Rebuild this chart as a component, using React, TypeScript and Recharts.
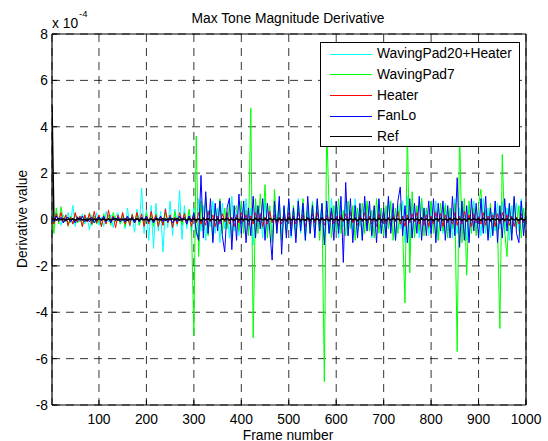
import React from 'react';
import { LineChart, Line, XAxis, YAxis, CartesianGrid, Legend } from 'recharts';

// Frame numbers sampled every 5 frames (first sample = frame 1)
const FRAMES: number[] = Array.from({ length: 201 }, (_, i) => (i === 0 ? 1 : i * 5));

const X_TICKS = [100, 200, 300, 400, 500, 600, 700, 800, 900, 1000];
const Y_TICKS = [-8, -6, -4, -2, 0, 2, 4, 6, 8];

const SERIES_NAMES = ['WavingPad20+Heater', 'WavingPad7', 'Heater', 'FanLo', 'Ref'];
const SERIES_COLORS = ['#00ffff', '#00ff00', '#ff0000', '#0000ff', '#000000'];

// values in units of 1e-4
const WAVING20_HEATER = [
  0.1, -0.2, 0.3, 0.05, -0.25, 0.2, -0.1, 0.3, -0.15, 0.6,
  -0.3, 0.15, -0.1, 0.25, -0.2, 0.1, -0.45, 0.2, -0.15, 0.3,
  -0.25, 0.1, -0.3, 0.35, -0.1, 0.2, -0.35, 0.15, 0.3, -0.2,
  0.25, -0.4, 0.5, -0.3, 0.2, -0.55, 0.45, -0.25, 1.35, -0.6,
  0.4, -0.9, 0.6, -1.25, 0.7, -0.5, 0.35, -1.4, 0.5, -0.35,
  0.8, -0.7, 0.45, -0.3, 1.25, -0.85, 0.6, -0.4, 0.3, -0.6,
  0.5, -0.7, 0.9, -0.5, 0.6, -0.9, 0.4, -0.3, 0.8, -0.6,
  0.5, -1.0, 0.7, -0.4, 0.3, -0.8, 1.0, -0.5, 0.4, -0.7,
  0.6, -0.3, 0.9, -0.6, 0.5, -1.1, 0.7, -0.4, 0.3, -0.8,
  0.9, -0.5, 0.4, -0.9, 0.6, -0.3, 0.8, -0.7, 0.5, -0.4,
  0.7, -0.8, 0.4, -0.5, 0.9, -0.6, 0.3, -0.9, 0.6, -0.4,
  0.8, -0.7, 0.5, -0.3, 0.7, -0.9, 0.4, -0.6, 0.9, -0.4,
  0.5, -0.8, 0.6, -0.3, 0.8, -0.7, 0.4, -0.5, 0.9, -0.6,
  0.3, -0.9, 0.7, -0.4, 0.6, -0.8, 0.5, -0.3, 0.8, -0.6,
  0.4, -0.7, 0.9, -0.5, 0.3, -0.9, 0.6, -0.4, 0.8, -1.0,
  1.0, -1.4, 0.7, -0.6, 0.4, -0.8, 0.9, -0.3, 0.5, -0.7,
  0.6, -0.4, 0.8, -0.9, 0.3, -0.6, 0.7, -0.5, 0.4, -0.8,
  0.9, -0.6, 0.5, -0.4, 0.7, -0.9, 0.6, -0.3, 0.8, -0.5,
  0.4, -0.7, 0.9, -0.6, 0.5, -0.8, 0.3, -0.5, 0.7, -0.4,
  0.8, -0.6, 0.5, -0.9, 0.6, -0.3, 0.7, -0.5, 0.9, -0.4,
  0.2,
];

const WAVINGPAD7 = [
  0.3, -0.6, 0.5, -0.2, 0.55, -0.1, 0.2, -0.3, 0.15, -0.2,
  0.25, -0.15, 0.1, -0.3, 0.2, -0.1, 0.3, -0.25, 0.15, -0.2,
  0.1, -0.3, 0.25, -0.15, 0.2, -0.25, 0.3, -0.1, 0.15, -0.2,
  0.2, -0.3, 0.1, -0.2, 0.25, -0.15, 0.3, -0.25, 0.1, -0.2,
  0.3, -0.15, 0.2, -0.3, 0.25, -0.2, 0.15, -0.25, 0.3, -0.1,
  0.2, -0.3, 0.35, -0.2, 0.15, -0.25, 0.3, -0.2, 0.45, -0.3,
  -5.0, 3.6, -1.6, 0.8, -0.5, 1.0, -0.7, 0.4, -0.9, 0.6,
  -0.3, 0.9, -0.6, 0.5, -0.4, 0.7, -0.8, 0.3, 0.6, -0.5,
  0.8, -0.6, 0.4, -0.7, 4.8, -5.1, 0.9, -0.6, 1.1, -0.4,
  1.5, -0.8, 0.6, -1.0, 1.3, -0.5, 0.7, -0.9, 0.5, -0.6,
  0.8, -0.4, 0.6, -0.8, 0.5, -0.3, 0.9, -0.7, 0.4, -0.6,
  0.7, -0.5, 0.8, -0.9, 0.6, -7.0, 4.0, 0.5, -0.8, 0.6,
  -0.5, 0.9, -0.6, 0.4, -0.7, 0.8, -0.4, 0.6, -0.9, 0.5,
  -0.3, 0.7, -0.6, 0.8, -0.5, 0.4, -0.8, 0.9, -0.6, 0.5,
  -0.7, 0.6, -0.4, 0.8, -0.9, 0.5, -0.6, 0.7, -0.5, -3.6,
  4.0, -2.3, 1.2, -0.8, 0.6, -0.5, 0.9, -0.7, 0.5, -0.4,
  0.8, -0.6, 0.4, -0.9, 0.7, -0.5, 0.6, -0.8, 0.5, -0.4,
  0.7, -5.7, 4.0, -1.0, 0.9, -2.4, 0.8, -0.6, 0.5, -0.7,
  0.6, 1.3, -0.5, 0.4, -0.8, 0.7, -0.6, 0.5, -0.4, -4.7,
  2.8, -0.5, -1.6, 0.7, -0.6, 0.9, -0.4, 0.6, -0.8, 0.5,
  -0.3,
];

const HEATER = [
  0.1, -0.2, 0.25, -0.1, 0.3, -0.15, 0.2, -0.25, 0.1, -0.2,
  0.3, -0.1, 0.15, -0.3, 0.2, -0.1, 0.25, -0.2, 0.35, -0.15,
  0.2, -0.3, 0.1, -0.2, 0.4, -0.1, 0.15, -0.35, 0.2, -0.1,
  0.3, -0.2, 0.1, -0.25, 0.2, -0.15, 0.3, -0.1, 0.25, -0.3,
  0.15, -0.2, 0.35, -0.1, 0.2, -0.3, 0.1, -0.25, 0.45, -0.15,
  0.2, -0.35, 0.1, -0.2, 0.3, -0.1, 0.25, -0.2, 0.15, -0.3,
  0.2, -0.15, 0.3, -0.2, 0.1, -0.25, 0.35, -0.1, 0.2, -0.3,
  0.15, -0.2, 0.25, -0.1, 0.3, -0.2, 0.1, -0.3, 0.2, -0.15,
  0.3, -0.1, 0.2, -0.25, 0.15, -0.2, 0.3, -0.1, 0.25, -0.3,
  0.1, -0.2, 0.35, -0.15, 0.2, -0.3, 0.1, -0.2, 0.25, -0.1,
  0.3, -0.25, 0.15, -0.2, 0.3, -0.1, 0.2, -0.3, 0.1, -0.2,
  0.25, -0.15, 0.3, -0.2, 0.1, -0.25, 0.2, -0.1, 0.35, -0.2,
  0.15, -0.3, 0.2, -0.1, 0.25, -0.2, 0.3, -0.15, 0.1, -0.25,
  0.2, -0.1, 0.3, -0.25, 0.15, -0.2, 0.1, -0.3, 0.25, -0.15,
  0.3, -0.2, 0.1, -0.25, 0.2, -0.1, 0.35, -0.2, 0.15, -0.3,
  0.2, -0.15, 0.25, -0.1, 0.3, -0.2, 0.1, -0.25, 0.2, -0.3,
  0.15, -0.2, 0.3, -0.1, 0.25, -0.3, 0.2, -0.15, 0.1, -0.2,
  0.3, -0.25, 0.15, -0.2, 0.35, -0.1, 0.2, -0.3, 0.25, -0.15,
  0.1, -0.2, 0.3, -0.25, 0.15, -0.1, 0.2, -0.3, 0.25, -0.2,
  0.3, -0.1, 0.2, -0.25, 0.15, -0.3, 0.1, -0.2, 0.25, -0.15,
  0.1,
];

const FANLO = [
  0.05, -0.1, 0.15, -0.05, 0.1, -0.15, 0.05, 0.1, -0.1, 0.05,
  -0.15, 0.1, -0.05, 0.15, -0.1, 0.05, -0.1, 0.1, -0.15, 0.05,
  0.1, -0.05, 0.15, -0.1, 0.05, -0.15, 0.1, -0.05, 0.1, -0.1,
  0.05, -0.1, 0.15, -0.05, 0.1, -0.15, 0.05, -0.1, 0.1, -0.05,
  0.15, -0.1, 0.05, -0.15, 0.1, -0.05, 0.15, -0.1, 0.05, -0.1,
  0.1, -0.15, 0.05, -0.1, 0.15, -0.05, 0.1, -0.2, 0.15, -0.1,
  0.3, -0.5, -0.9, 1.9, -0.8, 1.2, -0.6, 0.9, -1.0, 0.7,
  -0.5, 0.8, -0.7, -1.4, 0.5, 0.93, -1.3, 0.6, -0.9, 1.1,
  -0.6, 0.8, -1.0, 0.5, -0.7, 1.0, -0.8, 0.6, -0.4, 0.9,
  -0.9, 0.7, -0.5, -1.75, 0.8, -0.6, 1.0, -1.5, 0.6, -0.8,
  0.9, -0.7, 0.5, -1.0, 0.8, -0.5, 0.7, -0.9, 1.0, -0.6,
  0.6, -0.8, 0.9, -0.5, 0.7, -1.1, 0.8, -0.6, 0.5, -0.9,
  0.8, -0.6, 1.0, -1.85, 1.6, -0.7, 0.9, -1.0, 0.6, -0.8,
  0.7, -0.9, 1.0, -0.5, 0.8, -0.7, 0.6, -1.0, 0.9, -0.6,
  0.5, -0.8, 1.0, -0.6, 0.7, -0.9, 0.8, 1.4, -0.7, 0.6,
  -1.0, 0.9, -0.8, 0.7, -0.6, 1.0, -0.9, 0.5, -0.7, 0.8,
  -0.6, 0.9, -1.0, 0.7, -0.5, 0.8, -0.9, 0.6, -0.8, 1.0,
  -0.7, 1.8, -1.2, 0.8, -0.9, 0.6, -1.0, 0.9, -0.5, 0.7,
  -0.8, 0.9, -0.6, 1.0, -0.9, 0.5, -0.7, 0.8, -1.0, 0.6,
  -0.8, 0.9, -0.5, 0.7, -0.9, 1.0, -0.6, -1.0, 0.8, -0.7,
  0.5,
];

const REF = [
  4.9, 0.02, -0.03, 0.04, -0.02, 0.03, -0.04, 0.02, -0.01, 0.03,
  -0.03, 0.02, 0.04, -0.02, 0.01, -0.04, 0.03, -0.02, 0.02, -0.03,
  0.04, -0.01, 0.02, -0.03, 0.03, -0.02, 0.01, 0.04, -0.03, 0.02,
  -0.02, 0.03, -0.04, 0.02, 0.01, -0.03, 0.04, -0.02, 0.03, -0.01,
  0.02, -0.03, 0.03, -0.04, 0.02, 0.01, -0.02, 0.04, -0.03, 0.02,
  -0.01, 0.03, -0.02, 0.04, -0.03, 0.02, 0.01, -0.04, 0.03, -0.02,
  0.05, -0.04, 0.03, -0.05, 0.04, -0.02, 0.05, -0.03, 0.02, -0.04,
  0.03, -0.05, 0.04, -0.02, 0.05, -0.03, 0.02, -0.04, 0.05, -0.03,
  0.04, -0.02, 0.03, -0.05, 0.02, -0.04, 0.05, -0.03, 0.04, -0.02,
  0.03, -0.04, 0.05, -0.02, 0.03, -0.05, 0.04, -0.03, 0.02, -0.04,
  0.05, -0.03, 0.04, -0.02, 0.03, -0.05, 0.02, -0.04, 0.05, -0.03,
  0.04, -0.02, 0.03, -0.04, 0.05, -0.03, 0.02, -0.05, 0.04, -0.02,
  0.03, -0.04, 0.05, -0.03, 0.02, -0.04, 0.04, -0.02, 0.03, -0.05,
  0.05, -0.03, 0.02, -0.04, 0.04, -0.02, 0.03, -0.05, 0.05, -0.03,
  0.02, -0.04, 0.04, -0.03, 0.05, -0.02, 0.03, -0.04, 0.02, -0.05,
  0.04, -0.03, 0.05, -0.02, 0.03, -0.04, 0.05, -0.03, 0.02, -0.04,
  0.03, -0.05, 0.04, -0.02, 0.05, -0.03, 0.02, -0.04, 0.04, -0.03,
  0.05, -0.02, 0.03, -0.04, 0.02, -0.05, 0.04, -0.03, 0.05, -0.02,
  0.03, -0.04, 0.05, -0.03, 0.02, -0.04, 0.04, -0.02, 0.03, -0.05,
  0.04, -0.03, 0.02, -0.04, 0.05, -0.02, 0.03, -0.04, 0.05, -0.03,
  0.02,
];

const SERIES_VALUES = [WAVING20_HEATER, WAVINGPAD7, HEATER, FANLO, REF];

const toPoints = (vals: number[]) => vals.map((v, i) => ({ frame: FRAMES[i], value: v }));

const FONT = '"Liberation Sans", Arial, Helvetica, sans-serif';
const FS = 13.8;

const LegendBox = () => (
  <div
    style={{
      width: 200,
      height: 105,
      border: '1px solid #000',
      background: '#fff',
      boxSizing: 'border-box',
      position: 'relative',
      fontFamily: FONT,
      fontSize: FS,
      color: '#000',
    }}
  >
    {SERIES_NAMES.map((name, i) => (
      <div key={name}>
        <div
          style={{
            position: 'absolute',
            left: 9,
            top: 10.8 + 20.6 * i,
            width: 42,
            height: 1,
            background: SERIES_COLORS[i],
          }}
        />
        <div
          style={{
            position: 'absolute',
            left: 56,
            top: 11.3 + 20.6 * i - 9,
            height: 18,
            lineHeight: '18px',
            whiteSpace: 'nowrap',
          }}
        >
          {name}
        </div>
      </div>
    ))}
  </div>
);

export default function App() {
  return (
    <div style={{ position: 'absolute', left: 0, top: 0, width: 548, height: 441, background: '#fff' }}>
      <LineChart
        width={548}
        height={441}
        margin={{ top: 30, right: 0, bottom: 0, left: 0 }}
        style={{ fontFamily: FONT }}
      >
        <CartesianGrid
          stroke="#000"
          strokeWidth={0.8}
          strokeDasharray="8 6"
          verticalPoints={undefined}
        />
        <XAxis
          xAxisId={0}
          type="number"
          dataKey="frame"
          domain={[1, 1000]}
          ticks={X_TICKS}
          interval={0}
          height={36}
          allowDataOverflow
          tickSize={-5}
          tickMargin={14.5}
          axisLine={{ stroke: '#000', strokeWidth: 1.2 }}
          tickLine={{ stroke: '#000' }}
          tick={{ fill: '#000', fontSize: FS, fontFamily: FONT }}
        />
        <XAxis
          xAxisId="top"
          orientation="top"
          type="number"
          dataKey="frame"
          domain={[1, 1000]}
          ticks={X_TICKS}
          interval={0}
          height={4}
          tickSize={-5}
          tickFormatter={() => ''}
          axisLine={{ stroke: '#000', strokeWidth: 1.2 }}
          tickLine={{ stroke: '#000' }}
        />
        <YAxis
          yAxisId={0}
          type="number"
          domain={[-8, 8]}
          ticks={Y_TICKS}
          interval={0}
          width={52}
          allowDataOverflow
          tickSize={-5}
          tickMargin={9}
          axisLine={{ stroke: '#000', strokeWidth: 1.2 }}
          tickLine={{ stroke: '#000' }}
          tick={{ fill: '#000', fontSize: FS, fontFamily: FONT }}
        />
        <YAxis
          yAxisId="right"
          orientation="right"
          type="number"
          domain={[-8, 8]}
          ticks={Y_TICKS}
          interval={0}
          width={22}
          tickSize={-5}
          tickFormatter={() => ''}
          axisLine={{ stroke: '#000', strokeWidth: 1.2 }}
          tickLine={{ stroke: '#000' }}
        />
        {SERIES_NAMES.map((name, i) => (
          <Line
            key={name}
            name={name}
            data={toPoints(SERIES_VALUES[i])}
            dataKey="value"
            xAxisId={0}
            yAxisId={0}
            type="linear"
            stroke={SERIES_COLORS[i]}
            strokeWidth={i === 4 ? 1.5 : 1}
            dot={false}
            activeDot={false}
            isAnimationActive={false}
          />
        ))}
        <Legend
          layout="horizontal"
          verticalAlign="middle"
          align="center"
          wrapperStyle={{ position: 'absolute', left: 320, top: 42, width: 200, height: 105 }}
          content={() => <LegendBox />}
        />
      </LineChart>
      <svg
        width={548}
        height={441}
        style={{ position: 'absolute', left: 0, top: 0, pointerEvents: 'none' }}
      >
        <text x={288} y={23.3} textAnchor="middle" fontFamily={FONT} fontSize={FS} fill="#000">
          Max Tone Magnitude Derivative
        </text>
        <text x={52} y={28} textAnchor="start" fontFamily={FONT} fontSize={FS} fill="#000">
          x 10
        </text>
        <text x={79} y={17} textAnchor="start" fontFamily={FONT} fontSize={9.5} fill="#000">
          -4
        </text>
        <text x={288} y={439.5} textAnchor="middle" fontFamily={FONT} fontSize={FS} fill="#000">
          Frame number
        </text>
        <text
          x={26.5}
          y={219}
          textAnchor="middle"
          fontFamily={FONT}
          fontSize={FS}
          fill="#000"
          transform="rotate(-90 26.5 219)"
        >
          Derivative value
        </text>
      </svg>
    </div>
  );
}
